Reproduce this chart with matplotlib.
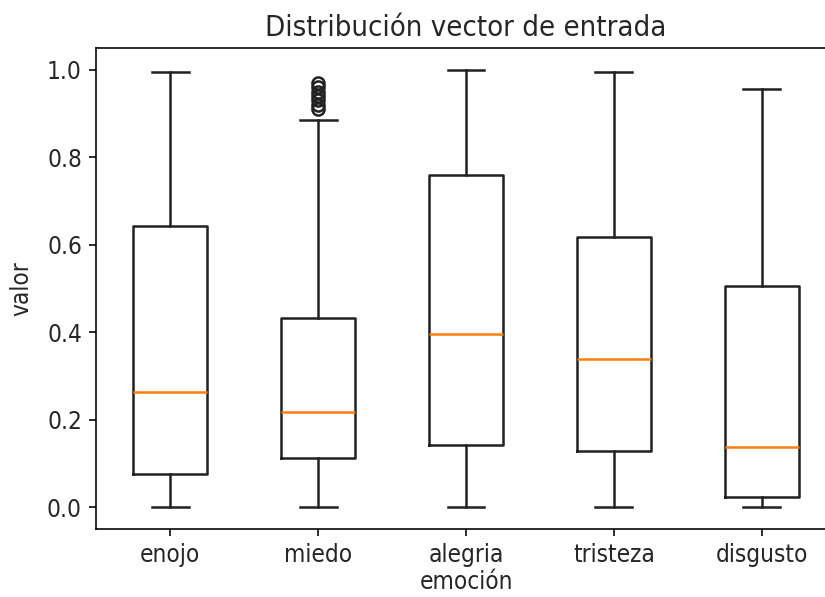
import matplotlib
matplotlib.use("Agg")
import matplotlib.pyplot as plt

# Box statistics
emociones = ["enojo", "miedo", "alegria", "tristeza", "disgusto"]
whislo = [0.0, 0.0, 0.0, 0.0, 0.0]
q1 = [0.075, 0.112, 0.143, 0.128, 0.023]
med = [0.263, 0.218, 0.396, 0.339, 0.137]
q3 = [0.643, 0.432, 0.760, 0.618, 0.506]
whishi = [0.995, 0.885, 1.0, 0.995, 0.955]
fliers = [[], [0.91, 0.92, 0.93, 0.94, 0.95, 0.96, 0.97], [], [], []]

S = 1.45  # scale factor of the reference rendering
F = 1.75  # text looks bigger than the lines in the reference

plt.rcParams["font.family"] = "DejaVu Sans"
plt.rcParams["font.stretch"] = "condensed"
plt.rcParams["font.size"] = 10 * F
plt.rcParams["text.color"] = "#262626"
plt.rcParams["axes.labelcolor"] = "#262626"
plt.rcParams["xtick.labelcolor"] = "#262626"
plt.rcParams["ytick.labelcolor"] = "#262626"
plt.rcParams["axes.linewidth"] = 0.8 * S
plt.rcParams["xtick.major.size"] = 3.5 * S
plt.rcParams["ytick.major.size"] = 3.5 * S
plt.rcParams["xtick.major.width"] = 0.8 * S
plt.rcParams["ytick.major.width"] = 0.8 * S
plt.rcParams["xtick.major.pad"] = 3.5 * S
plt.rcParams["ytick.major.pad"] = 3.5 * S

stats = []
for i, name in enumerate(emociones):
    stats.append({
        "label": name,
        "whislo": whislo[i],
        "q1": q1[i],
        "med": med[i],
        "q3": q3[i],
        "whishi": whishi[i],
        "fliers": fliers[i],
    })

fig = plt.figure(figsize=(8.25, 5.97), dpi=100)
# right spine sits just past the picture edge, as in the reference
ax = fig.add_axes([0.1164, 0.1139, 0.8969, 0.8061])

lw = 1.25 * S
ax.bxp(
    stats,
    boxprops=dict(linewidth=lw, color="#222222"),
    whiskerprops=dict(linewidth=lw, color="#222222"),
    capprops=dict(linewidth=lw, color="#222222"),
    medianprops=dict(linewidth=lw, color="#ff7f0e"),
    flierprops=dict(marker="o", markersize=6 * S, markerfacecolor="none",
                    markeredgecolor="#222222", markeredgewidth=lw),
)

ax.set_xlim(0.5, 5.5)
ax.set_ylim(-0.05, 1.05)
ax.set_yticks([0.0, 0.2, 0.4, 0.6, 0.8, 1.0])
ax.set_title("Distribución vector de entrada", fontsize=12 * F, pad=6 * S)
ax.set_xlabel("emoción", labelpad=2)
ax.set_ylabel("valor", labelpad=10)

fig.savefig("out.png", dpi=100)
